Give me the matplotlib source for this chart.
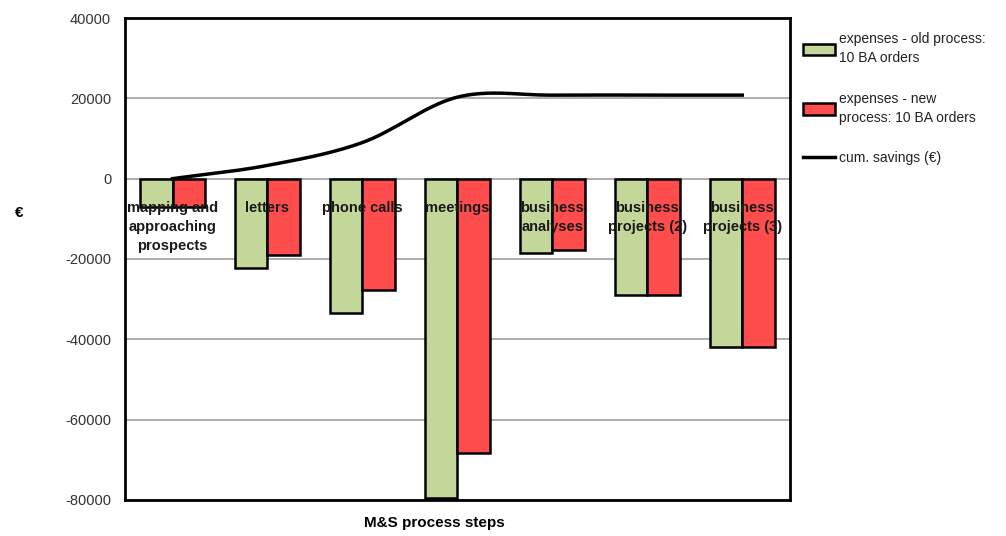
import numpy as np
import matplotlib.pyplot as plt

plt.rcParams['font.family'] = ['Liberation Sans', 'DejaVu Sans']
plt.rcParams['axes.unicode_minus'] = False

steps = ['mapping and\napproaching\nprospects', 'letters', 'phone calls', 'meetings',
         'business\nanalyses', 'business\nprojects (2)', 'business\nprojects (3)']
old_process = [-7000, -22200, -33400, -79500, -18400, -28900, -41800]
new_process = [-7000, -18900, -27700, -68200, -17700, -28900, -41800]
cum_savings = [0, 3300, 9000, 20300, 20800, 20800, 20800]


def smooth(xs, ys, n=30):
    # catmull-rom curve through the points, like excel's smoothed line
    xs = np.asarray(xs, float)
    ys = np.asarray(ys, float)
    px = np.concatenate([[2 * xs[0] - xs[1]], xs, [2 * xs[-1] - xs[-2]]])
    py = np.concatenate([[2 * ys[0] - ys[1]], ys, [2 * ys[-1] - ys[-2]]])
    out_x, out_y = [], []
    t = np.linspace(0, 1, n)
    for i in range(1, len(px) - 2):
        for p, out in ((px, out_x), (py, out_y)):
            p0, p1, p2, p3 = p[i - 1], p[i], p[i + 1], p[i + 2]
            out.extend(0.5 * (2 * p1 + (-p0 + p2) * t + (2 * p0 - 5 * p1 + 4 * p2 - p3) * t ** 2
                              + (-p0 + 3 * p1 - 3 * p2 + p3) * t ** 3))
    return out_x, out_y


fig = plt.figure(figsize=(10.06, 5.36), dpi=100)
ax = fig.add_axes([0.1243, 0.0672, 0.6607, 0.8992])

x = np.arange(len(steps))
w = 0.34
b1 = ax.bar(x - w / 2, old_process, w, color='#c4d79b', edgecolor='black', linewidth=1.8,
            label='expenses - old process:\n10 BA orders', zorder=3)
b2 = ax.bar(x + w / 2, new_process, w, color='#ff4d4d', edgecolor='black', linewidth=1.8,
            label='expenses - new\nprocess: 10 BA orders', zorder=3)
sx, sy = smooth(x, cum_savings)
ln, = ax.plot(sx, sy, color='black', linewidth=2.5, label='cum. savings (€)', zorder=4)

ax.set_xlim(-0.5, len(steps) - 0.5)
ax.set_ylim(-80000, 40000)
ax.set_yticks(np.arange(-80000, 40001, 20000))
ax.yaxis.grid(True, color='#a0a0a0', linewidth=1.2)
ax.set_axisbelow(True)
ax.set_xticks([])
ax.tick_params(axis='y', length=0, labelsize=10.5, pad=10, labelcolor='#333333')
for s in ax.spines.values():
    s.set_linewidth(2)

for i, name in enumerate(steps):
    ax.annotate(name, (i, 0), xytext=(0, -16), textcoords='offset points',
                ha='center', va='top', fontsize=10.5, fontweight='bold',
                color='#1a1a1a', zorder=5, linespacing=1.45)

fig.text(0.015, 0.602, '€', fontsize=11, fontweight='bold', va='center')
fig.text(0.432, 0.024, 'M&S process steps', fontsize=11, fontweight='bold', ha='center', va='center')

leg = fig.legend(handles=[b1, b2, ln], loc='upper left', bbox_to_anchor=(0.793, 0.95), frameon=False,
                 fontsize=10, handlelength=2.3, handleheight=0.9, labelspacing=1.9,
                 handletextpad=0.25, borderaxespad=0)
for t in leg.get_texts():
    t.set_linespacing(1.45)
    t.set_color('#222222')

fig.savefig('out.png')
